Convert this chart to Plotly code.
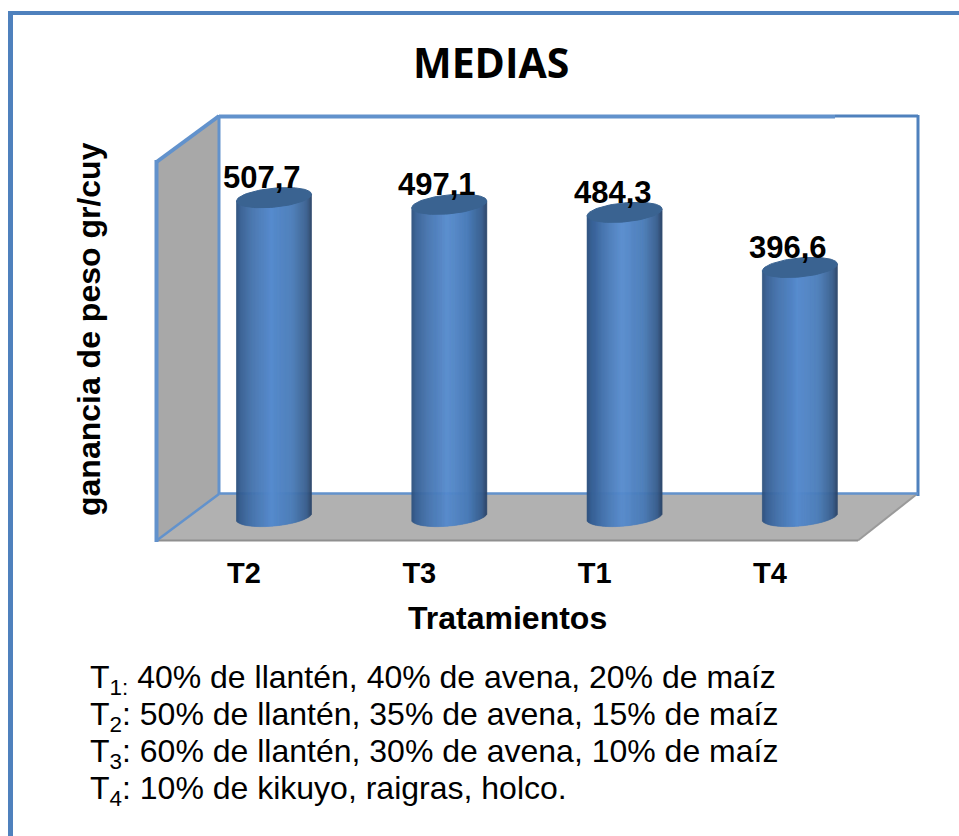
"""MEDIAS: cylinder bars of mean weight gain per treatment."""
import numpy as np
import plotly.graph_objects as go

W, H = 959, 836

categories = ['T2', 'T3', 'T1', 'T4']
values = [507.7, 497.1, 484.3, 396.6]
value_labels = ['507,7', '497,1', '484,3', '396,6']
legend_lines = [
    'T<sub>1:</sub> 40% de llantén, 40% de avena, 20% de maíz',
    'T<sub>2</sub>: 50% de llantén, 35% de avena, 15% de maíz',
    'T<sub>3</sub>: 60% de llantén, 30% de avena, 10% de maíz',
    'T<sub>4</sub>: 10% de kikuyo, raigras, holco.',
]

BLUE = '#4f81bd'
BLUE_LIGHT = '#6292cc'
ARIAL = 'Liberation Sans, Arial, sans-serif'

# pixel layout of the fake 3D box
X_STEP = 175.3          # px between cylinders
X0 = 274                # px of first cylinder centre
Y_ZERO = 516.5          # px of value 0
Y_SCALE = 0.628         # px per unit
BOX_L, BOX_R, BOX_T, BOX_B = 156, 918, 116, 541


def px(x):
    return x / W


def py(y):
    return 1 - y / H


def poly(points, fill, line=None, width=0):
    path = 'M ' + ' L '.join(f'{px(x):.5f},{py(y):.5f}' for x, y in points) + ' Z'
    return dict(type='path', path=path, xref='paper', yref='paper', layer='below',
                fillcolor=fill, line=dict(color=line or fill, width=width))


def seg(x0, y0, x1, y1, color, width):
    return dict(type='line', xref='paper', yref='paper', layer='below',
                x0=px(x0), y0=py(y0), x1=px(x1), y1=py(y1),
                line=dict(color=color, width=width))


# shading across the cylinder
shade_pos = [0, 0.06, 0.2, 0.47, 0.75, 0.94, 1]
shade_rgb = np.array([[0x2d, 0x50, 0x7c], [0x36, 0x5f, 0x93], [0x44, 0x72, 0xac],
                      [0x56, 0x8b, 0xce], [0x4a, 0x7c, 0xb8], [0x38, 0x5e, 0x8e],
                      [0x2a, 0x44, 0x68]], dtype=float)

RX, RY, TILT = 37.5, 9.5, 3.4   # px, ellipse half axes and tilt of the ends
N_STRIPS = 76

u = (np.arange(N_STRIPS) + 0.5) / N_STRIPS * 2 - 1
half = np.sqrt(1 - u ** 2) * RY
tilt = -u * TILT
strip_x = u * RX / X_STEP
strip_w = 2 * RX / X_STEP / N_STRIPS
colors = [
    'rgb({:.0f},{:.0f},{:.0f})'.format(*[np.interp((a + 1) / 2, shade_pos, shade_rgb[:, k]) for k in range(3)])
    for a in u
]

fig = go.Figure()

for i, (cat, val) in enumerate(zip(categories, values)):
    # each strip runs from the lower edge of the bottom ellipse to the value
    base = -(half + tilt) / Y_SCALE
    top = val - tilt / Y_SCALE
    fig.add_trace(go.Bar(
        x=i + strip_x, y=top - base, base=base, width=strip_w, name=cat,
        marker=dict(color=colors, line=dict(color=colors, width=0.6)),
        cliponaxis=False, showlegend=False, hoverinfo='skip',
    ))
    # top cap, right side higher than left
    t = np.linspace(0, 2 * np.pi, 80)
    cap_x = np.cos(t) * RX
    cap_y = np.sin(t) * RY + np.cos(t) * TILT
    fig.add_trace(go.Scatter(
        x=i + cap_x / X_STEP, y=val + cap_y / Y_SCALE, mode='lines', fill='toself',
        fillcolor='#3a6391', line=dict(color='#3a6391', width=1),
        cliponaxis=False, showlegend=False, hoverinfo='skip',
    ))

shapes = [
    # floor and left wall
    poly([(218, 494), (917, 494), (858, 540), (156, 540)], '#b1b1b1'),
    poly([(156, 162), (219, 116), (219, 494), (156, 540)], '#a8a8a8'),
    seg(156, 540.5, 858, 540.5, '#8f8f8f', 2),
    seg(858, 540.5, 917, 494, '#9a9a9a', 2),
    # box edges
    seg(219, 116.5, 835, 116.5, BLUE_LIGHT, 4),
    seg(835, 116, 918, 116, BLUE, 3),
    seg(918, 115, 918, 496, BLUE, 3),
    seg(219, 493.5, 918, 493.5, BLUE_LIGHT, 2.5),
    seg(219, 115, 219, 494, BLUE_LIGHT, 3),
    seg(156.5, 162, 219, 116, BLUE_LIGHT, 4),
    seg(156.5, 160, 156.5, 542, BLUE_LIGHT, 4),
    seg(156, 541, 219, 494, BLUE_LIGHT, 2.5),
    # outer page border
    dict(type='rect', xref='paper', yref='paper', layer='below', x0=px(8), x1=px(13),
         y0=0, y1=py(11), fillcolor=BLUE, line=dict(width=0)),
    dict(type='rect', xref='paper', yref='paper', layer='below', x0=px(8), x1=1,
         y0=py(15), y1=py(11), fillcolor=BLUE, line=dict(width=0)),
]

annotations = [
    dict(text='<b>MEDIAS</b>', xref='paper', yref='paper', x=px(491), y=py(62), showarrow=False,
         xanchor='center', yanchor='middle', font=dict(family='Open Sans, sans-serif', size=41, color='#000000')),
    dict(text='<b>ganancia de peso gr/cuy</b>', xref='paper', yref='paper', x=px(89), y=py(329),
         showarrow=False, textangle=-90, xanchor='center', yanchor='middle',
         font=dict(family=ARIAL, size=32, color='#000000')),
    dict(text='<b>Tratamientos</b>', xref='paper', yref='paper', x=px(507), y=py(618), showarrow=False,
         xanchor='center', yanchor='middle', font=dict(family=ARIAL, size=32, color='#000000')),
]
for i, (val, label) in enumerate(zip(values, value_labels)):
    annotations.append(dict(text=f'<b>{label}</b>', x=i, y=val, xref='x', yref='y', showarrow=False,
                            xshift=-12, yshift=20, xanchor='center', yanchor='middle',
                            font=dict(family=ARIAL, size=31, color='#000000')))
for k, line in enumerate(legend_lines):
    annotations.append(dict(text=line, xref='paper', yref='paper', x=px(88), y=py(679 + 37 * k),
                            showarrow=False, xanchor='left', yanchor='middle', align='left',
                            font=dict(family=ARIAL, size=32, color='#000000')))

fig.update_layout(
    width=W, height=H, margin=dict(l=0, r=0, t=0, b=0),
    paper_bgcolor='#ffffff', plot_bgcolor='rgba(0,0,0,0)',
    barmode='overlay', showlegend=False,
    shapes=shapes, annotations=annotations,
    xaxis=dict(
        domain=[px(BOX_L), px(BOX_R)],
        range=[(BOX_L - X0) / X_STEP, (BOX_R - X0) / X_STEP],
        # labels sit left of the cylinders because of the 3D depth
        tickvals=[i - 30 / X_STEP for i in range(len(categories))], ticktext=categories,
        showgrid=False, zeroline=False, showline=False, ticks='',
        ticklabelstandoff=12,
        tickfont=dict(family=ARIAL, size=29, color='#000000', weight='bold'),
    ),
    yaxis=dict(
        domain=[py(BOX_B), py(BOX_T)],
        range=[(Y_ZERO - BOX_B) / Y_SCALE, (Y_ZERO - BOX_T) / Y_SCALE],
        visible=False,
    ),
)

fig.write_html('out.html', post_script="document.body.style.margin='0';",
               config=dict(displayModeBar=False))
